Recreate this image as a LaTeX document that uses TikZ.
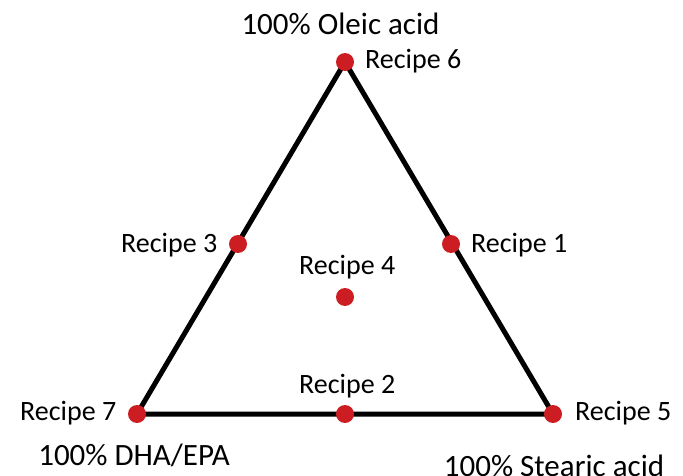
\documentclass[tikz,border=0pt]{standalone}
\usepackage{fontspec}
\setmainfont{Carlito}
\definecolor{dotred}{RGB}{204,30,34}
\tikzset{
  dot/.style={circle,fill=dotred,inner sep=0pt,minimum size=18pt},
  lbl/.style={inner sep=0pt,font=\fontsize{28}{32}\selectfont},
  big/.style={inner sep=0pt,font=\fontsize{31}{36}\selectfont},
  edge/.style={line width=5pt,black}
}
\begin{document}
\begin{tikzpicture}[x=1pt,y=-1pt]
\useasboundingbox (0,0) rectangle (683,476);
% vertices / dots
\coordinate (T) at (345,62);
\coordinate (L) at (137,414);
\coordinate (R) at (553,414);
\draw[edge,line join=miter] (T) -- (L) -- (R) -- cycle;
\node[dot] (d6) at (T) {};
\node[dot] (d7) at (L) {};
\node[dot] (d5) at (R) {};
\node[dot] (d3) at (238,244) {};
\node[dot] (d1) at (451,244) {};
\node[dot] (d2) at (345,414) {};
\node[dot] (d4) at (345,297) {};
% labels
\node[big,anchor=base] (top) at (340.5,35) {100\% Oleic acid};
\node[lbl,anchor=base west] (r6) at (365,69) {Recipe 6};
\node[lbl,anchor=base west] (r3) at (121,252) {Recipe 3};
\node[lbl,anchor=base west] (r1) at (471,252) {Recipe 1};
\node[lbl,anchor=base west] (r4) at (299,274) {Recipe 4};
\node[lbl,anchor=base west] (r2) at (299,393) {Recipe 2};
\node[lbl,anchor=base west] (r7) at (20,420) {Recipe 7};
\node[lbl,anchor=base west] (r5) at (575,420) {Recipe 5};
\node[big,anchor=base] (dha) at (134,465) {100\% DHA/EPA};
\node[big,anchor=base] (ste) at (554,476) {100\% Stearic acid};
\end{tikzpicture}
\end{document}
